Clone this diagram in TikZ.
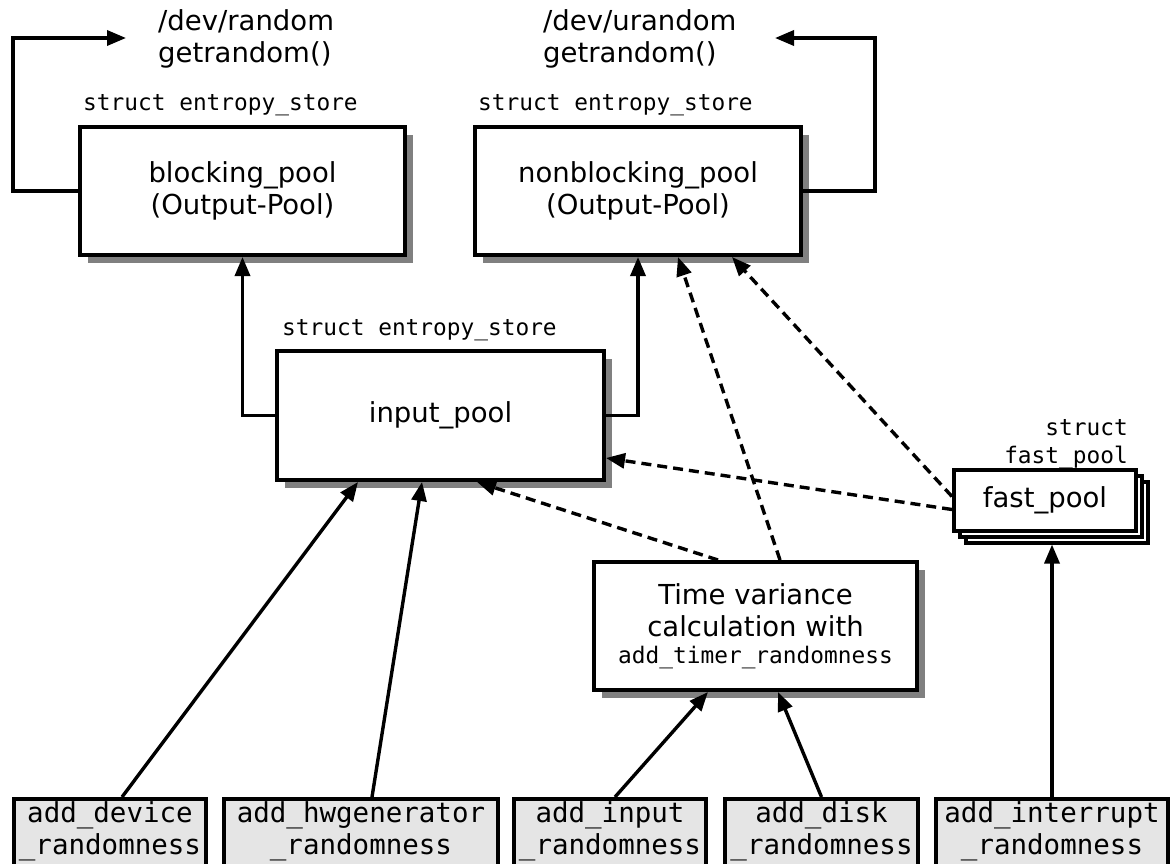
\documentclass[tikz,border=0pt]{standalone}
\usepackage{fontspec}
\setmainfont{DejaVu Sans}
\setmonofont{DejaVu Sans Mono}
\usetikzlibrary{arrows.meta,shadows,calc}
\newcommand\bigfont{\fontsize{27.5}{32}\selectfont}
\newcommand\smallmono{\ttfamily\fontsize{22.8}{27}\selectfont}
\tikzset{
  pool/.style={draw, line width=4pt, fill=white, align=center, inner sep=0pt,
    font=\bigfont,
    drop shadow={shadow xshift=8pt, shadow yshift=-8pt, fill=black!50, opacity=1}},
  fastbox/.style={draw, line width=4pt, fill=white, align=center, inner sep=0pt,
    font=\bigfont, minimum width=182pt, minimum height=61pt},
  srcbox/.style={draw, line width=4pt, fill=black!10, align=center, anchor=north,
    font=\ttfamily\bigfont, inner xsep=4pt, inner ysep=3pt, text depth=30pt},
  structlbl/.style={font=\smallmono, inner sep=0pt},
  devlbl/.style={font=\bigfont, inner sep=0pt, anchor=base west},
  arr/.style={line width=3.4pt, -{Triangle[length=19pt,width=15pt]}},
  darr/.style={arr, dash pattern=on 10pt off 6pt},
}
\begin{document}
\begin{tikzpicture}[x=1pt, y=-1pt]
\useasboundingbox (0,0) rectangle (1172,863);
\clip (0,0) rectangle (1172,863);

% labels
\node[devlbl] (rnd1) at (158,30) {/dev/random};
\node[devlbl] (rnd2) at (158,62) {getrandom()};
\node[devlbl] (urnd1) at (543,30) {/dev/urandom};
\node[devlbl] (urnd2) at (543,62) {getrandom()};
\node[structlbl, anchor=base west] (sblk) at (83,110) {struct entropy\_store};
\node[structlbl, anchor=base west] (snbl) at (478,110) {struct entropy\_store};
\node[structlbl, anchor=base west] (sinp) at (282,335) {struct entropy\_store};
\node[structlbl, anchor=base east] (sfp1) at (1128,435) {struct};
\node[structlbl, anchor=base east] (sfp2) at (1128,463) {fast\_pool};

% pools
\node[pool, minimum width=325pt, minimum height=128pt] (blocking) at (242.5,191)
  {blocking\_pool\\(Output-Pool)};
\node[pool, minimum width=326pt, minimum height=128pt] (nonblocking) at (638,191)
  {nonblocking\_pool\\(Output-Pool)};
\node[pool, minimum width=327pt, minimum height=129pt] (input) at (440.5,415.5)
  {input\_pool};
\node[pool, minimum width=323pt, minimum height=128pt] (time) at (755.5,626)
  {Time variance\\calculation with\\[-5pt]{\smallmono add\_timer\_randomness}};

% fast pool stack
\node[fastbox] (fast3) at (1057,512) {};
\node[fastbox] (fast2) at (1051,506) {};
\node[fastbox] (fast) at (1045,500) {fast\_pool};

% sources
\node[srcbox, minimum width=192pt] (dev) at (110,797) {add\_device\\\_randomness};
\node[srcbox, minimum width=274pt] (hw) at (361,797) {add\_hwgenerator\\\_randomness};
\node[srcbox, minimum width=192pt] (inp) at (610,797) {add\_input\\\_randomness};
\node[srcbox, minimum width=193pt] (disk) at (821.5,797) {add\_disk\\\_randomness};
\node[srcbox, minimum width=232pt] (intr) at (1052,797) {add\_interrupt\\\_randomness};

% output loops
\coordinate (rndcorner) at (13,38);
\coordinate (rndout) at (126,38);
\coordinate (urndcorner) at (875,38);
\coordinate (urndout) at (775,38);
\draw[arr] (blocking.west) -| (rndcorner) -- (rndout);
\draw[arr] (nonblocking.east) -| (urndcorner) -- (urndout);

% input to outputs
\draw[arr] (input.west) -| (blocking.south);
\draw[arr] (input.east) -| (nonblocking.south);

% sources to pools
\draw[arr] ([xshift=12pt]dev.north) -- ([xshift=83pt]input.south west);
\draw[arr] ([xshift=11pt]hw.north) -- ([xshift=147pt]input.south west);
\draw[arr] ([xshift=5pt]inp.north) -- ([xshift=116pt]time.south west);
\draw[arr] (disk.north) -- ([xshift=186pt]time.south west);
\draw[arr] (intr.north) -- (intr.north |- fast3.south);

% dashed
\draw[darr] ([xshift=126pt]time.north west) -- ([xshift=202pt]input.south west);
\draw[darr] ([xshift=188pt]time.north west) -- ([xshift=205pt]nonblocking.south west);
\draw[darr] ([yshift=3.5pt]fast.west) -- ([xshift=259pt]nonblocking.south west);
\draw[darr] ([yshift=-9.5pt]fast.west) -- ([yshift=24pt]input.south east);
\end{tikzpicture}
\end{document}
